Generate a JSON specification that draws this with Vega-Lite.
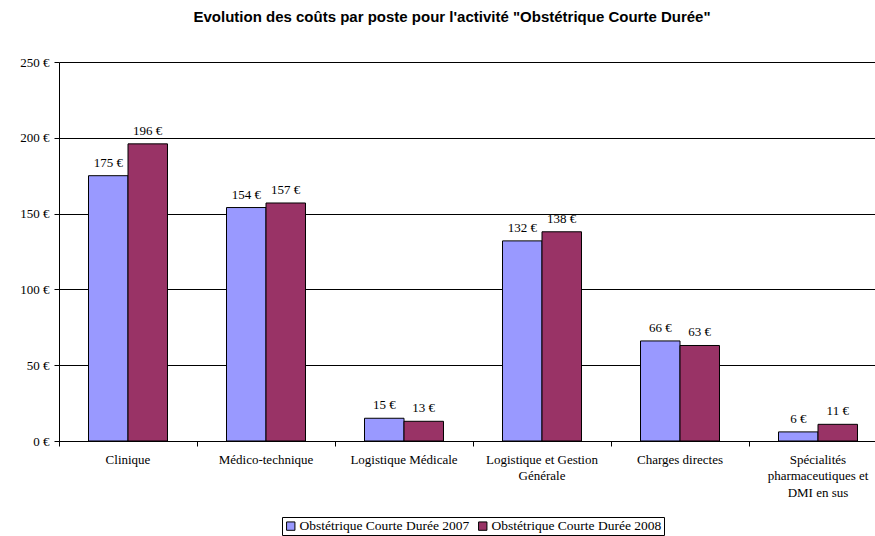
{
  "$schema": "https://vega.github.io/schema/vega-lite/v6.json",
  "autosize": {"type": "none"},
  "width": 816,
  "height": 379,
  "padding": {"left": 59, "top": 62, "right": 0, "bottom": 95},
  "background": "white",
  "title": {
    "text": "Evolution des coûts par poste pour l'activité \"Obstétrique Courte Durée\"",
    "font": "Liberation Sans",
    "fontSize": 15,
    "fontWeight": "bold",
    "color": "black",
    "anchor": "middle",
    "frame": "group",
    "dx": -15,
    "offset": 31
  },
  "data": {
    "values": [
      {"poste": "Clinique", "serie": "Obstétrique Courte Durée 2007", "cout": 175},
      {"poste": "Clinique", "serie": "Obstétrique Courte Durée 2008", "cout": 196},
      {"poste": "Médico-technique", "serie": "Obstétrique Courte Durée 2007", "cout": 154},
      {"poste": "Médico-technique", "serie": "Obstétrique Courte Durée 2008", "cout": 157},
      {"poste": "Logistique Médicale", "serie": "Obstétrique Courte Durée 2007", "cout": 15},
      {"poste": "Logistique Médicale", "serie": "Obstétrique Courte Durée 2008", "cout": 13},
      {"poste": "Logistique et Gestion|Générale", "serie": "Obstétrique Courte Durée 2007", "cout": 132},
      {"poste": "Logistique et Gestion|Générale", "serie": "Obstétrique Courte Durée 2008", "cout": 138},
      {"poste": "Charges directes", "serie": "Obstétrique Courte Durée 2007", "cout": 66},
      {"poste": "Charges directes", "serie": "Obstétrique Courte Durée 2008", "cout": 63},
      {"poste": "Spécialités|pharmaceutiques et|DMI en sus", "serie": "Obstétrique Courte Durée 2007", "cout": 6},
      {"poste": "Spécialités|pharmaceutiques et|DMI en sus", "serie": "Obstétrique Courte Durée 2008", "cout": 11}
    ]
  },
  "encoding": {
    "x": {
      "field": "poste",
      "type": "nominal",
      "sort": null,
      "scale": {"paddingInner": 0, "paddingOuter": 0, "range": [0, 828]},
      "axis": {
        "title": null,
        "labelAngle": 0,
        "labelExpr": "split(datum.label, '|')",
        "labelFont": "Liberation Serif",
        "labelFontSize": 13,
        "labelColor": "black",
        "labelLineHeight": 16.5,
        "labelPadding": 7,
        "labelLimit": 200,
        "bandPosition": 0,
        "domainColor": "black",
        "tickColor": "black",
        "tickSize": 5,
        "grid": false
      }
    },
    "xOffset": {
      "field": "serie",
      "type": "nominal",
      "scale": {"paddingInner": 0, "paddingOuter": 0.747}
    },
    "y": {
      "field": "cout",
      "type": "quantitative",
      "scale": {"domain": [0, 250], "nice": false},
      "axis": {
        "title": null,
        "values": [0, 50, 100, 150, 200, 250],
        "format": "$.0f",
        "labelFont": "Liberation Serif",
        "labelFontSize": 13,
        "labelColor": "black",
        "labelPadding": 5,
        "domainColor": "black",
        "tickColor": "black",
        "tickSize": 5,
        "grid": true,
        "gridColor": "black",
        "gridOpacity": 1,
        "gridWidth": 1
      }
    }
  },
  "layer": [
    {
      "mark": {"type": "bar", "stroke": "black", "strokeWidth": 1},
      "encoding": {
        "color": {
          "field": "serie",
          "type": "nominal",
          "scale": {"range": ["#9999FF", "#993366"]},
          "legend": {
            "title": null,
            "orient": "none",
            "legendX": 223,
            "legendY": 455,
            "direction": "horizontal",
            "symbolType": "square",
            "symbolSize": 70,
            "symbolStrokeColor": "black",
            "symbolStrokeWidth": 1,
            "labelFont": "Liberation Serif",
            "labelFontSize": 13.5,
            "labelColor": "black",
            "strokeColor": "black",
            "padding": 2,
            "columnPadding": 6,
            "labelOffset": 2,
            "labelLimit": 300
          }
        }
      }
    },
    {
      "mark": {
        "type": "text",
        "baseline": "bottom",
        "dy": -6,
        "font": "Liberation Serif",
        "fontSize": 13,
        "color": "black"
      },
      "encoding": {
        "text": {"field": "cout", "type": "quantitative", "format": "$.0f"}
      }
    }
  ],
  "config": {
    "view": {"stroke": null},
    "locale": {
      "number": {
        "decimal": ",",
        "thousands": " ",
        "grouping": [3],
        "currency": ["", " €"]
      }
    }
  }
}
